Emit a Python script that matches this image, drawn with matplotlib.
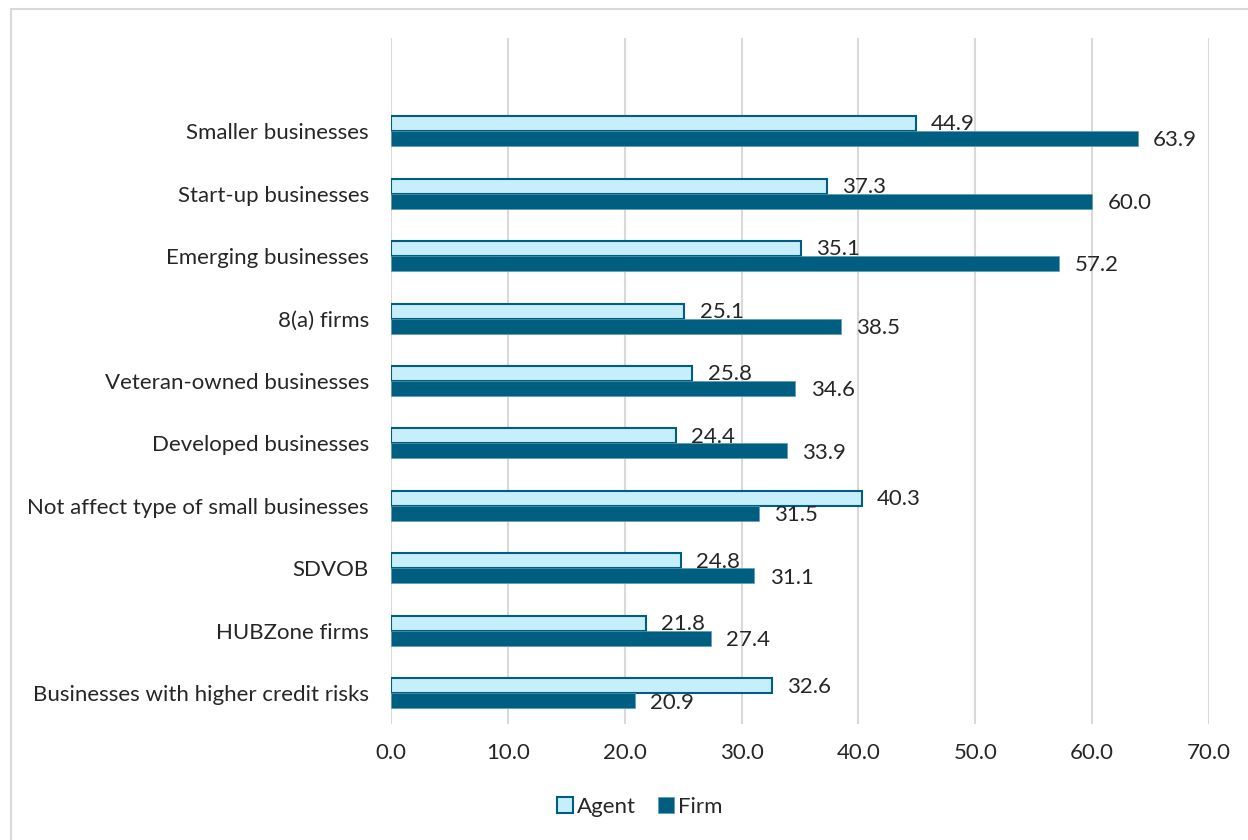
import numpy as np
import matplotlib.pyplot as plt
from matplotlib.patches import Rectangle

plt.rcParams['font.family'] = ['Lato', 'DejaVu Sans']

categories = [
    'Smaller businesses',
    'Start-up businesses',
    'Emerging businesses',
    '8(a) firms',
    'Veteran-owned businesses',
    'Developed businesses',
    'Not affect type of small businesses',
    'SDVOB',
    'HUBZone firms',
    'Businesses with higher credit risks',
]
agent = [44.9, 37.3, 35.1, 25.1, 25.8, 24.4, 40.3, 24.8, 21.8, 32.6]
firm = [63.9, 60.0, 57.2, 38.5, 34.6, 33.9, 31.5, 31.1, 27.4, 20.9]

agent_face = '#C6EEFB'
dark = '#005E80'

fig = plt.figure(figsize=(12.48, 8.4), dpi=100)
# outer chart border
fig.patches.append(Rectangle((11 / 1248, -0.1), 1.2, 1 - 9 / 840 + 0.1,
                             transform=fig.transFigure, fill=False,
                             edgecolor='#D9D9D9', linewidth=1.5))

ax = fig.add_axes([391 / 1248, 1 - 724 / 840, (1209 - 391) / 1248, (724 - 38) / 840])

y = np.arange(len(categories))
h = 0.24
ax.barh(y - h / 2, agent, height=h, color=agent_face, edgecolor=dark,
        linewidth=1.5, label='Agent', zorder=3)
ax.barh(y + h / 2, firm, height=h, color=dark, edgecolor='#5B9BB0',
        linewidth=0.5, label='Firm', zorder=3)

for yi, a, f in zip(y, agent, firm):
    ax.text(a + 1.3, yi - h / 2 + 0.01, f'{a:.1f}', va='center', ha='left',
            fontsize=16, color='#262626', zorder=4)
    ax.text(f + 1.3, yi + h / 2 + 0.03, f'{f:.1f}', va='center', ha='left',
            fontsize=16, color='#262626', zorder=4)

ax.set_xlim(0, 70)
ax.set_xticks(np.arange(0, 71, 10))
ax.set_xticklabels([f'{v:.1f}' for v in np.arange(0, 71, 10)])
ax.set_yticks(y)
ax.set_yticklabels(categories)
ax.set_ylim(9 + 0.49, -1.49)

ax.grid(axis='x', color='#D9D9D9', linewidth=1.5, zorder=0)
for s in ax.spines.values():
    s.set_visible(False)
ax.tick_params(axis='both', length=0, labelsize=16, labelcolor='#262626')
ax.tick_params(axis='x', pad=14)
ax.tick_params(axis='y', pad=16)

fig.legend(loc='center', bbox_to_anchor=(640 / 1248, 1 - 807 / 840), ncol=2,
           frameon=False, fontsize=16, handlelength=0.7, handleheight=0.7,
           handletextpad=0.2, columnspacing=1.0, labelcolor='#262626')

plt.savefig('out.png', dpi=100, facecolor='white')
